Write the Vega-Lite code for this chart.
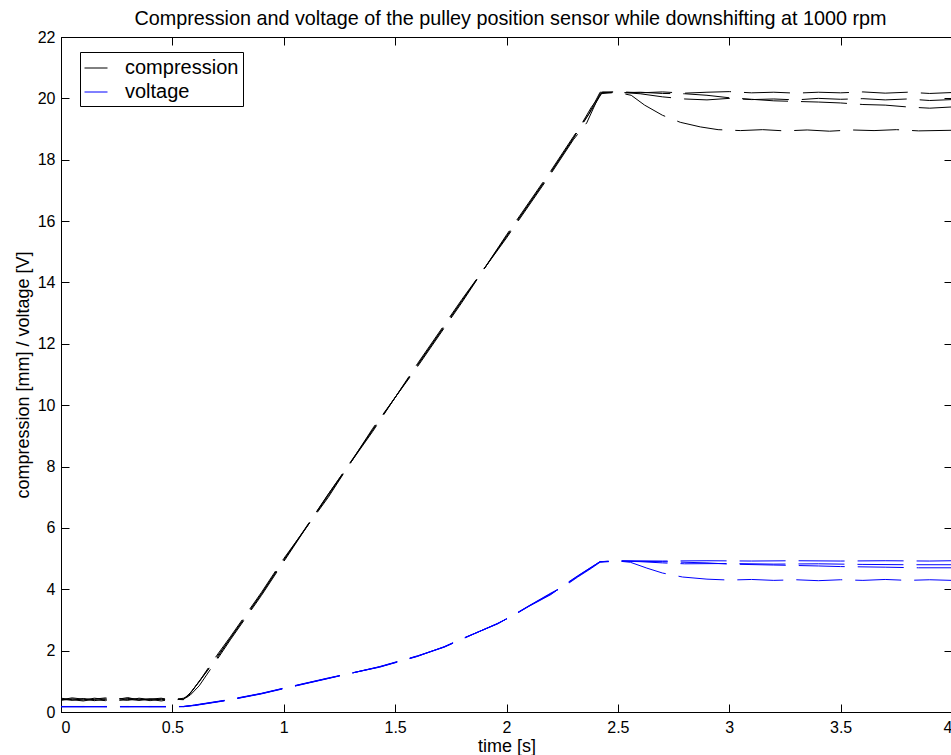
{
  "$schema": "https://vega.github.io/schema/vega-lite/v6.json",
  "width": 891,
  "height": 675,
  "autosize": {"type": "none"},
  "padding": {"left": 61, "top": 37, "right": 0, "bottom": 43},
  "background": "white",
  "config": {
    "font": "Liberation Sans",
    "view": {"stroke": "black", "strokeWidth": 1},
    "axis": {"grid": false, "domainColor": "black", "tickColor": "black", "labelColor": "black", "titleColor": "black", "labelFont": "Liberation Sans", "titleFont": "Liberation Sans", "labelFontSize": 16, "titleFontSize": 18, "titleFontWeight": "normal", "tickSize": -8}
  },
  "title": {"text": "Compression and voltage of the pulley position sensor while downshifting at 1000 rpm", "fontSize": 19.8, "fontWeight": "normal", "font": "Liberation Sans", "offset": -16, "dx": 4, "baseline": "alphabetic", "anchor": "middle", "color": "black"},
  "data": {"values": [
    {"t":0,"v":0.42,"s":"compression","r":"c1"},{"t":0.05,"v":0.38,"s":"compression","r":"c1"},{"t":0.1,"v":0.44,"s":"compression","r":"c1"},{"t":0.15,"v":0.40,"s":"compression","r":"c1"},{"t":0.2,"v":0.37,"s":"compression","r":"c1"},{"t":0.25,"v":0.45,"s":"compression","r":"c1"},{"t":0.3,"v":0.41,"s":"compression","r":"c1"},{"t":0.35,"v":0.38,"s":"compression","r":"c1"},{"t":0.4,"v":0.43,"s":"compression","r":"c1"},{"t":0.45,"v":0.40,"s":"compression","r":"c1"},{"t":0.5,"v":0.44,"s":"compression","r":"c1"},{"t":0.55,"v":0.42,"s":"compression","r":"c1"},
    {"t":0.58,"v":0.62,"s":"compression","r":"c1"},{"t":0.62,"v":0.98,"s":"compression","r":"c1"},{"t":0.7,"v":1.8,"s":"compression","r":"c1"},{"t":0.76,"v":2.4,"s":"compression","r":"c1"},{"t":0.9,"v":3.85,"s":"compression","r":"c1"},{"t":1.0,"v":4.95,"s":"compression","r":"c1"},{"t":1.2,"v":7.05,"s":"compression","r":"c1"},{"t":1.4,"v":9.2,"s":"compression","r":"c1"},{"t":1.6,"v":11.3,"s":"compression","r":"c1"},{"t":1.8,"v":13.4,"s":"compression","r":"c1"},{"t":2.0,"v":15.5,"s":"compression","r":"c1"},{"t":2.2,"v":17.6,"s":"compression","r":"c1"},{"t":2.3,"v":18.7,"s":"compression","r":"c1"},{"t":2.38,"v":19.6,"s":"compression","r":"c1"},{"t":2.43,"v":20.2,"s":"compression","r":"c1"},
    {"t":2.5,"v":20.22,"s":"compression","r":"c1"},{"t":2.6,"v":20.18,"s":"compression","r":"c1"},{"t":2.7,"v":20.21,"s":"compression","r":"c1"},{"t":2.8,"v":20.17,"s":"compression","r":"c1"},{"t":2.9,"v":20.2,"s":"compression","r":"c1"},{"t":3.0,"v":20.22,"s":"compression","r":"c1"},{"t":3.1,"v":20.18,"s":"compression","r":"c1"},{"t":3.2,"v":20.2,"s":"compression","r":"c1"},{"t":3.3,"v":20.17,"s":"compression","r":"c1"},{"t":3.4,"v":20.2,"s":"compression","r":"c1"},{"t":3.5,"v":20.18,"s":"compression","r":"c1"},{"t":3.6,"v":20.21,"s":"compression","r":"c1"},{"t":3.7,"v":20.17,"s":"compression","r":"c1"},{"t":3.8,"v":20.2,"s":"compression","r":"c1"},{"t":3.9,"v":20.16,"s":"compression","r":"c1"},{"t":4.0,"v":20.19,"s":"compression","r":"c1"},

    {"t":0,"v":0.38,"s":"compression","r":"c2"},{"t":0.05,"v":0.43,"s":"compression","r":"c2"},{"t":0.1,"v":0.39,"s":"compression","r":"c2"},{"t":0.15,"v":0.45,"s":"compression","r":"c2"},{"t":0.2,"v":0.41,"s":"compression","r":"c2"},{"t":0.25,"v":0.36,"s":"compression","r":"c2"},{"t":0.3,"v":0.44,"s":"compression","r":"c2"},{"t":0.35,"v":0.42,"s":"compression","r":"c2"},{"t":0.4,"v":0.37,"s":"compression","r":"c2"},{"t":0.45,"v":0.43,"s":"compression","r":"c2"},{"t":0.5,"v":0.39,"s":"compression","r":"c2"},{"t":0.55,"v":0.45,"s":"compression","r":"c2"},
    {"t":0.58,"v":0.55,"s":"compression","r":"c2"},{"t":0.62,"v":0.85,"s":"compression","r":"c2"},{"t":0.7,"v":1.7,"s":"compression","r":"c2"},{"t":0.76,"v":2.35,"s":"compression","r":"c2"},{"t":0.9,"v":3.8,"s":"compression","r":"c2"},{"t":1.0,"v":4.9,"s":"compression","r":"c2"},{"t":1.2,"v":7.1,"s":"compression","r":"c2"},{"t":1.4,"v":9.15,"s":"compression","r":"c2"},{"t":1.6,"v":11.35,"s":"compression","r":"c2"},{"t":1.8,"v":13.45,"s":"compression","r":"c2"},{"t":2.0,"v":15.45,"s":"compression","r":"c2"},{"t":2.2,"v":17.55,"s":"compression","r":"c2"},{"t":2.3,"v":18.65,"s":"compression","r":"c2"},{"t":2.36,"v":19.2,"s":"compression","r":"c2"},{"t":2.42,"v":20.15,"s":"compression","r":"c2"},
    {"t":2.5,"v":20.2,"s":"compression","r":"c2"},{"t":2.6,"v":20.15,"s":"compression","r":"c2"},{"t":2.7,"v":20.05,"s":"compression","r":"c2"},{"t":2.8,"v":19.98,"s":"compression","r":"c2"},{"t":2.9,"v":19.95,"s":"compression","r":"c2"},{"t":3.0,"v":20.0,"s":"compression","r":"c2"},{"t":3.1,"v":19.96,"s":"compression","r":"c2"},{"t":3.2,"v":19.98,"s":"compression","r":"c2"},{"t":3.3,"v":19.95,"s":"compression","r":"c2"},{"t":3.4,"v":20.0,"s":"compression","r":"c2"},{"t":3.5,"v":19.97,"s":"compression","r":"c2"},{"t":3.6,"v":19.99,"s":"compression","r":"c2"},{"t":3.7,"v":19.95,"s":"compression","r":"c2"},{"t":3.8,"v":19.98,"s":"compression","r":"c2"},{"t":3.9,"v":19.93,"s":"compression","r":"c2"},{"t":4.0,"v":19.96,"s":"compression","r":"c2"},

    {"t":0,"v":0.45,"s":"compression","r":"c3"},{"t":0.05,"v":0.40,"s":"compression","r":"c3"},{"t":0.1,"v":0.36,"s":"compression","r":"c3"},{"t":0.15,"v":0.42,"s":"compression","r":"c3"},{"t":0.2,"v":0.46,"s":"compression","r":"c3"},{"t":0.25,"v":0.40,"s":"compression","r":"c3"},{"t":0.3,"v":0.38,"s":"compression","r":"c3"},{"t":0.35,"v":0.45,"s":"compression","r":"c3"},{"t":0.4,"v":0.41,"s":"compression","r":"c3"},{"t":0.45,"v":0.36,"s":"compression","r":"c3"},{"t":0.5,"v":0.42,"s":"compression","r":"c3"},{"t":0.55,"v":0.40,"s":"compression","r":"c3"},
    {"t":0.59,"v":0.7,"s":"compression","r":"c3"},{"t":0.63,"v":1.1,"s":"compression","r":"c3"},{"t":0.7,"v":1.85,"s":"compression","r":"c3"},{"t":0.76,"v":2.45,"s":"compression","r":"c3"},{"t":0.9,"v":3.9,"s":"compression","r":"c3"},{"t":1.0,"v":5.0,"s":"compression","r":"c3"},{"t":1.2,"v":7.0,"s":"compression","r":"c3"},{"t":1.4,"v":9.25,"s":"compression","r":"c3"},{"t":1.6,"v":11.25,"s":"compression","r":"c3"},{"t":1.8,"v":13.35,"s":"compression","r":"c3"},{"t":2.0,"v":15.55,"s":"compression","r":"c3"},{"t":2.2,"v":17.65,"s":"compression","r":"c3"},{"t":2.3,"v":18.75,"s":"compression","r":"c3"},{"t":2.37,"v":19.5,"s":"compression","r":"c3"},{"t":2.42,"v":20.2,"s":"compression","r":"c3"},
    {"t":2.5,"v":20.18,"s":"compression","r":"c3"},{"t":2.6,"v":20.2,"s":"compression","r":"c3"},{"t":2.7,"v":20.16,"s":"compression","r":"c3"},{"t":2.8,"v":20.15,"s":"compression","r":"c3"},{"t":2.9,"v":20.1,"s":"compression","r":"c3"},{"t":3.0,"v":20.02,"s":"compression","r":"c3"},{"t":3.1,"v":19.97,"s":"compression","r":"c3"},{"t":3.2,"v":19.92,"s":"compression","r":"c3"},{"t":3.3,"v":19.9,"s":"compression","r":"c3"},{"t":3.4,"v":19.88,"s":"compression","r":"c3"},{"t":3.5,"v":19.85,"s":"compression","r":"c3"},{"t":3.6,"v":19.8,"s":"compression","r":"c3"},{"t":3.7,"v":19.78,"s":"compression","r":"c3"},{"t":3.8,"v":19.72,"s":"compression","r":"c3"},{"t":3.9,"v":19.68,"s":"compression","r":"c3"},{"t":4.0,"v":19.72,"s":"compression","r":"c3"},

    {"t":0,"v":0.40,"s":"compression","r":"c4"},{"t":0.05,"v":0.46,"s":"compression","r":"c4"},{"t":0.1,"v":0.42,"s":"compression","r":"c4"},{"t":0.15,"v":0.37,"s":"compression","r":"c4"},{"t":0.2,"v":0.43,"s":"compression","r":"c4"},{"t":0.25,"v":0.41,"s":"compression","r":"c4"},{"t":0.3,"v":0.47,"s":"compression","r":"c4"},{"t":0.35,"v":0.39,"s":"compression","r":"c4"},{"t":0.4,"v":0.42,"s":"compression","r":"c4"},{"t":0.45,"v":0.45,"s":"compression","r":"c4"},{"t":0.5,"v":0.38,"s":"compression","r":"c4"},{"t":0.55,"v":0.43,"s":"compression","r":"c4"},
    {"t":0.57,"v":0.5,"s":"compression","r":"c4"},{"t":0.61,"v":0.9,"s":"compression","r":"c4"},{"t":0.7,"v":1.75,"s":"compression","r":"c4"},{"t":0.76,"v":2.4,"s":"compression","r":"c4"},{"t":0.9,"v":3.85,"s":"compression","r":"c4"},{"t":1.0,"v":4.95,"s":"compression","r":"c4"},{"t":1.2,"v":7.1,"s":"compression","r":"c4"},{"t":1.4,"v":9.2,"s":"compression","r":"c4"},{"t":1.6,"v":11.3,"s":"compression","r":"c4"},{"t":1.8,"v":13.4,"s":"compression","r":"c4"},{"t":2.0,"v":15.5,"s":"compression","r":"c4"},{"t":2.2,"v":17.6,"s":"compression","r":"c4"},{"t":2.3,"v":18.7,"s":"compression","r":"c4"},{"t":2.38,"v":19.7,"s":"compression","r":"c4"},{"t":2.43,"v":20.2,"s":"compression","r":"c4"},
    {"t":2.5,"v":20.19,"s":"compression","r":"c4"},{"t":2.56,"v":20.1,"s":"compression","r":"c4"},{"t":2.62,"v":19.78,"s":"compression","r":"c4"},{"t":2.7,"v":19.45,"s":"compression","r":"c4"},{"t":2.78,"v":19.22,"s":"compression","r":"c4"},{"t":2.87,"v":19.07,"s":"compression","r":"c4"},{"t":2.95,"v":18.98,"s":"compression","r":"c4"},{"t":3.05,"v":18.95,"s":"compression","r":"c4"},{"t":3.15,"v":18.98,"s":"compression","r":"c4"},{"t":3.25,"v":18.94,"s":"compression","r":"c4"},{"t":3.35,"v":18.97,"s":"compression","r":"c4"},{"t":3.45,"v":18.93,"s":"compression","r":"c4"},{"t":3.55,"v":18.97,"s":"compression","r":"c4"},{"t":3.65,"v":18.95,"s":"compression","r":"c4"},{"t":3.75,"v":18.98,"s":"compression","r":"c4"},{"t":3.85,"v":18.94,"s":"compression","r":"c4"},{"t":4.0,"v":18.96,"s":"compression","r":"c4"},

    {"t":0,"v":0.18,"s":"voltage","r":"v1"},{"t":0.1,"v":0.17,"s":"voltage","r":"v1"},{"t":0.2,"v":0.18,"s":"voltage","r":"v1"},{"t":0.3,"v":0.17,"s":"voltage","r":"v1"},{"t":0.4,"v":0.18,"s":"voltage","r":"v1"},{"t":0.5,"v":0.17,"s":"voltage","r":"v1"},{"t":0.55,"v":0.18,"s":"voltage","r":"v1"},
    {"t":0.6,"v":0.22,"s":"voltage","r":"v1"},{"t":0.75,"v":0.39,"s":"voltage","r":"v1"},{"t":0.9,"v":0.6,"s":"voltage","r":"v1"},{"t":1.0,"v":0.77,"s":"voltage","r":"v1"},{"t":1.2,"v":1.1,"s":"voltage","r":"v1"},{"t":1.43,"v":1.47,"s":"voltage","r":"v1"},{"t":1.6,"v":1.82,"s":"voltage","r":"v1"},{"t":1.72,"v":2.12,"s":"voltage","r":"v1"},{"t":1.8,"v":2.38,"s":"voltage","r":"v1"},{"t":1.96,"v":2.88,"s":"voltage","r":"v1"},{"t":2.03,"v":3.15,"s":"voltage","r":"v1"},{"t":2.1,"v":3.45,"s":"voltage","r":"v1"},{"t":2.2,"v":3.85,"s":"voltage","r":"v1"},{"t":2.26,"v":4.12,"s":"voltage","r":"v1"},{"t":2.32,"v":4.42,"s":"voltage","r":"v1"},{"t":2.38,"v":4.7,"s":"voltage","r":"v1"},{"t":2.42,"v":4.9,"s":"voltage","r":"v1"},
    {"t":2.5,"v":4.93,"s":"voltage","r":"v1"},{"t":2.7,"v":4.92,"s":"voltage","r":"v1"},{"t":2.9,"v":4.93,"s":"voltage","r":"v1"},{"t":3.1,"v":4.92,"s":"voltage","r":"v1"},{"t":3.3,"v":4.93,"s":"voltage","r":"v1"},{"t":3.5,"v":4.92,"s":"voltage","r":"v1"},{"t":3.7,"v":4.93,"s":"voltage","r":"v1"},{"t":3.9,"v":4.92,"s":"voltage","r":"v1"},{"t":4.0,"v":4.93,"s":"voltage","r":"v1"},

    {"t":0,"v":0.17,"s":"voltage","r":"v2"},{"t":0.1,"v":0.18,"s":"voltage","r":"v2"},{"t":0.2,"v":0.17,"s":"voltage","r":"v2"},{"t":0.3,"v":0.18,"s":"voltage","r":"v2"},{"t":0.4,"v":0.17,"s":"voltage","r":"v2"},{"t":0.5,"v":0.18,"s":"voltage","r":"v2"},{"t":0.55,"v":0.18,"s":"voltage","r":"v2"},
    {"t":0.6,"v":0.21,"s":"voltage","r":"v2"},{"t":0.75,"v":0.38,"s":"voltage","r":"v2"},{"t":0.9,"v":0.59,"s":"voltage","r":"v2"},{"t":1.0,"v":0.76,"s":"voltage","r":"v2"},{"t":1.2,"v":1.09,"s":"voltage","r":"v2"},{"t":1.43,"v":1.48,"s":"voltage","r":"v2"},{"t":1.6,"v":1.83,"s":"voltage","r":"v2"},{"t":1.72,"v":2.11,"s":"voltage","r":"v2"},{"t":1.8,"v":2.37,"s":"voltage","r":"v2"},{"t":1.96,"v":2.89,"s":"voltage","r":"v2"},{"t":2.03,"v":3.14,"s":"voltage","r":"v2"},{"t":2.1,"v":3.44,"s":"voltage","r":"v2"},{"t":2.2,"v":3.83,"s":"voltage","r":"v2"},{"t":2.26,"v":4.15,"s":"voltage","r":"v2"},{"t":2.32,"v":4.44,"s":"voltage","r":"v2"},{"t":2.38,"v":4.72,"s":"voltage","r":"v2"},{"t":2.42,"v":4.9,"s":"voltage","r":"v2"},
    {"t":2.5,"v":4.92,"s":"voltage","r":"v2"},{"t":2.6,"v":4.9,"s":"voltage","r":"v2"},{"t":2.7,"v":4.86,"s":"voltage","r":"v2"},{"t":2.8,"v":4.83,"s":"voltage","r":"v2"},{"t":3.0,"v":4.84,"s":"voltage","r":"v2"},{"t":3.2,"v":4.82,"s":"voltage","r":"v2"},{"t":3.4,"v":4.83,"s":"voltage","r":"v2"},{"t":3.6,"v":4.81,"s":"voltage","r":"v2"},{"t":3.8,"v":4.8,"s":"voltage","r":"v2"},{"t":4.0,"v":4.8,"s":"voltage","r":"v2"},

    {"t":0,"v":0.18,"s":"voltage","r":"v3"},{"t":0.1,"v":0.18,"s":"voltage","r":"v3"},{"t":0.2,"v":0.17,"s":"voltage","r":"v3"},{"t":0.3,"v":0.17,"s":"voltage","r":"v3"},{"t":0.4,"v":0.18,"s":"voltage","r":"v3"},{"t":0.5,"v":0.18,"s":"voltage","r":"v3"},{"t":0.55,"v":0.17,"s":"voltage","r":"v3"},
    {"t":0.6,"v":0.23,"s":"voltage","r":"v3"},{"t":0.75,"v":0.4,"s":"voltage","r":"v3"},{"t":0.9,"v":0.61,"s":"voltage","r":"v3"},{"t":1.0,"v":0.78,"s":"voltage","r":"v3"},{"t":1.2,"v":1.11,"s":"voltage","r":"v3"},{"t":1.43,"v":1.46,"s":"voltage","r":"v3"},{"t":1.6,"v":1.81,"s":"voltage","r":"v3"},{"t":1.72,"v":2.13,"s":"voltage","r":"v3"},{"t":1.8,"v":2.39,"s":"voltage","r":"v3"},{"t":1.96,"v":2.87,"s":"voltage","r":"v3"},{"t":2.03,"v":3.16,"s":"voltage","r":"v3"},{"t":2.1,"v":3.46,"s":"voltage","r":"v3"},{"t":2.2,"v":3.88,"s":"voltage","r":"v3"},{"t":2.26,"v":4.1,"s":"voltage","r":"v3"},{"t":2.32,"v":4.4,"s":"voltage","r":"v3"},{"t":2.38,"v":4.68,"s":"voltage","r":"v3"},{"t":2.42,"v":4.88,"s":"voltage","r":"v3"},
    {"t":2.5,"v":4.92,"s":"voltage","r":"v3"},{"t":2.7,"v":4.9,"s":"voltage","r":"v3"},{"t":2.9,"v":4.86,"s":"voltage","r":"v3"},{"t":3.0,"v":4.82,"s":"voltage","r":"v3"},{"t":3.2,"v":4.79,"s":"voltage","r":"v3"},{"t":3.4,"v":4.76,"s":"voltage","r":"v3"},{"t":3.5,"v":4.74,"s":"voltage","r":"v3"},{"t":3.7,"v":4.72,"s":"voltage","r":"v3"},{"t":3.85,"v":4.7,"s":"voltage","r":"v3"},{"t":4.0,"v":4.7,"s":"voltage","r":"v3"},

    {"t":0,"v":0.17,"s":"voltage","r":"v4"},{"t":0.1,"v":0.17,"s":"voltage","r":"v4"},{"t":0.2,"v":0.18,"s":"voltage","r":"v4"},{"t":0.3,"v":0.18,"s":"voltage","r":"v4"},{"t":0.4,"v":0.17,"s":"voltage","r":"v4"},{"t":0.5,"v":0.17,"s":"voltage","r":"v4"},{"t":0.55,"v":0.18,"s":"voltage","r":"v4"},
    {"t":0.6,"v":0.22,"s":"voltage","r":"v4"},{"t":0.75,"v":0.39,"s":"voltage","r":"v4"},{"t":0.9,"v":0.6,"s":"voltage","r":"v4"},{"t":1.0,"v":0.77,"s":"voltage","r":"v4"},{"t":1.2,"v":1.1,"s":"voltage","r":"v4"},{"t":1.43,"v":1.47,"s":"voltage","r":"v4"},{"t":1.6,"v":1.82,"s":"voltage","r":"v4"},{"t":1.72,"v":2.12,"s":"voltage","r":"v4"},{"t":1.8,"v":2.38,"s":"voltage","r":"v4"},{"t":1.96,"v":2.88,"s":"voltage","r":"v4"},{"t":2.03,"v":3.15,"s":"voltage","r":"v4"},{"t":2.1,"v":3.45,"s":"voltage","r":"v4"},{"t":2.2,"v":3.86,"s":"voltage","r":"v4"},{"t":2.26,"v":4.13,"s":"voltage","r":"v4"},{"t":2.32,"v":4.43,"s":"voltage","r":"v4"},{"t":2.38,"v":4.71,"s":"voltage","r":"v4"},{"t":2.42,"v":4.9,"s":"voltage","r":"v4"},
    {"t":2.5,"v":4.92,"s":"voltage","r":"v4"},{"t":2.556,"v":4.88,"s":"voltage","r":"v4"},{"t":2.63,"v":4.69,"s":"voltage","r":"v4"},{"t":2.7,"v":4.53,"s":"voltage","r":"v4"},{"t":2.79,"v":4.4,"s":"voltage","r":"v4"},{"t":2.9,"v":4.33,"s":"voltage","r":"v4"},{"t":3.0,"v":4.3,"s":"voltage","r":"v4"},{"t":3.1,"v":4.32,"s":"voltage","r":"v4"},{"t":3.2,"v":4.29,"s":"voltage","r":"v4"},{"t":3.3,"v":4.31,"s":"voltage","r":"v4"},{"t":3.4,"v":4.28,"s":"voltage","r":"v4"},{"t":3.5,"v":4.31,"s":"voltage","r":"v4"},{"t":3.6,"v":4.29,"s":"voltage","r":"v4"},{"t":3.7,"v":4.32,"s":"voltage","r":"v4"},{"t":3.8,"v":4.29,"s":"voltage","r":"v4"},{"t":3.9,"v":4.31,"s":"voltage","r":"v4"},{"t":4.0,"v":4.29,"s":"voltage","r":"v4"}
  ]},
  "layer": [
    {
      "mark": {"type": "line", "strokeWidth": 1, "strokeDash": [46, 13]},
      "encoding": {
        "x": {"field": "t", "type": "quantitative", "scale": {"domain": [0, 4], "nice": false, "zero": false},
              "axis": {"values": [0, 0.5, 1, 1.5, 2, 2.5, 3, 3.5, 4], "format": "~g", "title": "time [s]", "labelPadding": 15, "titlePadding": 2}},
        "y": {"field": "v", "type": "quantitative", "scale": {"domain": [0, 22], "nice": false},
              "axis": {"values": [0, 2, 4, 6, 8, 10, 12, 14, 16, 18, 20, 22], "format": "~g", "title": "compression [mm] / voltage [V]", "labelPadding": 14, "titlePadding": 5}},
        "color": {"field": "s", "type": "nominal", "scale": {"domain": ["compression", "voltage"], "range": ["black", "#0000ff"]},
                  "legend": {"orient": "none", "legendX": 19, "legendY": 15, "title": null, "symbolType": "stroke", "symbolSize": 529, "symbolStrokeWidth": 1, "symbolDash": [], "labelFontSize": 20, "labelFont": "Liberation Sans", "labelColor": "black", "labelOffset": 17, "padding": 4, "strokeColor": "black", "fillColor": "white", "rowPadding": 2}},
        "detail": {"field": "r"}
      }
    },
    {
      "mark": {"type": "point", "opacity": 0},
      "encoding": {
        "x": {"field": "t", "type": "quantitative", "axis": {"orient": "top", "values": [0, 0.5, 1, 1.5, 2, 2.5, 3, 3.5, 4], "labels": false, "title": null, "domain": false}},
        "y": {"field": "v", "type": "quantitative", "axis": {"orient": "right", "values": [0, 2, 4, 6, 8, 10, 12, 14, 16, 18, 20, 22], "labels": false, "title": null, "domain": false}}
      }
    }
  ],
  "resolve": {"axis": {"x": "independent", "y": "independent"}}
}
